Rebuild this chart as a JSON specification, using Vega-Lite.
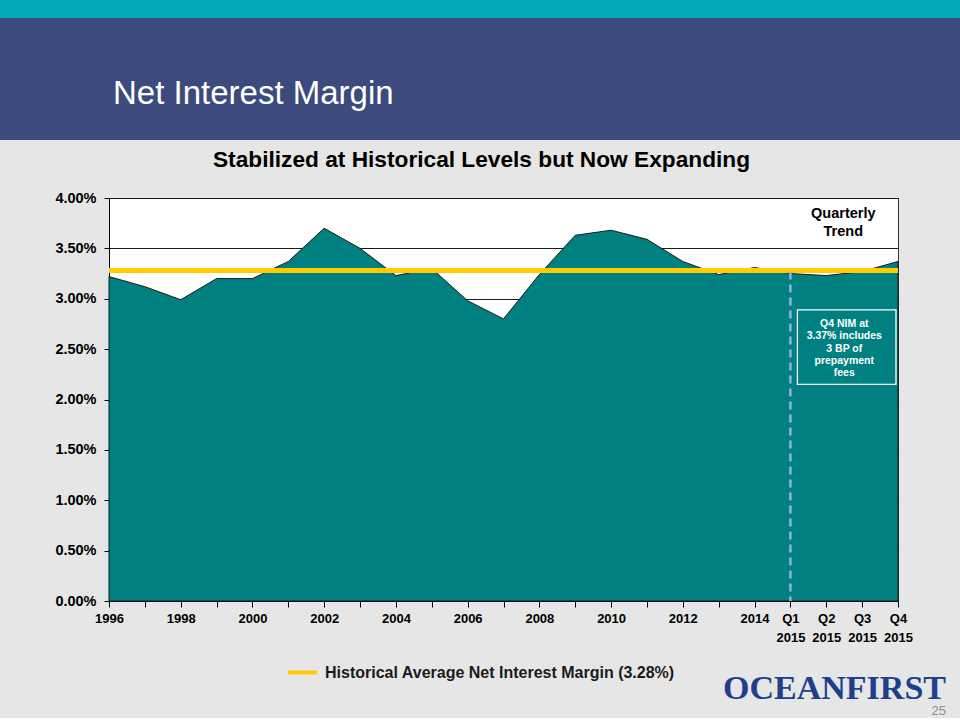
{
  "$schema": "https://vega.github.io/schema/vega-lite/v6.json",
  "background": "#E6E6E6",
  "padding": 0,
  "config": {
    "font": "Liberation Sans",
    "view": {"stroke": null}
  },
  "title": {
    "text": "OCEANFIRST",
    "subtitle": "25",
    "orient": "bottom",
    "anchor": "end",
    "frame": "bounds",
    "font": "Liberation Serif",
    "fontSize": 34,
    "fontWeight": "bold",
    "color": "#1D3F8C",
    "subtitleFont": "Liberation Sans",
    "subtitleFontSize": 13,
    "subtitleColor": "#8C8C8C",
    "subtitlePadding": -1,
    "dx": -14,
    "offset": -9
  },
  "spacing": 8,
  "vconcat": [
    {
      "vconcat": [
        {
          "width": 960,
          "height": 18,
          "view": {"fill": "#00AAB9", "stroke": null},
          "data": {"values": []},
          "mark": {"type": "point"},
          "encoding": {}
        },
        {
          "width": 960,
          "height": 122,
          "view": {"fill": "#3C4A7E", "stroke": null},
          "title": {
            "text": "Net Interest Margin",
            "orient": "top",
            "anchor": "start",
            "frame": "group",
            "baseline": "alphabetic",
            "offset": -119,
            "dx": 113,
            "font": "Liberation Sans",
            "fontSize": 33,
            "fontWeight": "normal",
            "color": "#FFFFFF"
          },
          "data": {"values": []},
          "mark": {"type": "point"},
          "encoding": {}
        }
      ],
      "spacing": 0
    },
    {
      "spacing": 0,
      "hconcat": [
        {
          "width": 1,
          "height": 403,
          "view": {"fill": null, "stroke": null},
          "data": {"values": []},
          "mark": {"type": "point"},
          "encoding": {}
        },
        {
          "width": 789,
          "height": 403,
          "view": {"fill": "#FFFFFF", "stroke": "#333333", "strokeWidth": 1},
          "title": {
            "text": "Stabilized at Historical Levels but Now Expanding",
            "anchor": "middle",
            "frame": "group",
            "baseline": "alphabetic",
            "offset": 0,
            "dx": -22,
            "font": "Liberation Sans",
            "fontSize": 22.7,
            "fontWeight": "bold",
            "color": "#000000"
          },
          "data": {
            "values": [
              {"period": "1996", "nim": 0.0322},
              {"period": "1997", "nim": 0.0312},
              {"period": "1998", "nim": 0.0299},
              {"period": "1999", "nim": 0.0320},
              {"period": "2000", "nim": 0.0320},
              {"period": "2001", "nim": 0.0337},
              {"period": "2002", "nim": 0.0370},
              {"period": "2003", "nim": 0.0350},
              {"period": "2004", "nim": 0.0323},
              {"period": "2005", "nim": 0.0330},
              {"period": "2006", "nim": 0.0298},
              {"period": "2007", "nim": 0.0280},
              {"period": "2008", "nim": 0.0324},
              {"period": "2009", "nim": 0.0363},
              {"period": "2010", "nim": 0.0368},
              {"period": "2011", "nim": 0.0359},
              {"period": "2012", "nim": 0.0337},
              {"period": "2013", "nim": 0.0324},
              {"period": "2014", "nim": 0.0331},
              {"period": "Q1 2015", "nim": 0.0325},
              {"period": "Q2 2015", "nim": 0.0323},
              {"period": "Q3 2015", "nim": 0.0327},
              {"period": "Q4 2015", "nim": 0.0337}
            ]
          },
          "layer": [
            {
              "mark": {"type": "area", "fill": "#008080", "stroke": "#1A1A1A", "strokeWidth": 1, "opacity": 1},
              "encoding": {
                "x": {
                  "field": "period",
                  "type": "ordinal",
                  "sort": null,
                  "scale": {"type": "point", "padding": 0},
                  "axis": {
                    "title": null,
                    "labelExpr": "indexof(datum.value, 'Q') == 0 ? split(datum.value, ' ') : (toNumber(datum.value) % 2 == 0 ? datum.value : '')",
                    "labelAngle": 0,
                    "labelOverlap": false,
                    "labelFont": "Liberation Sans",
                    "labelFontSize": 13,
                    "labelFontWeight": "bold",
                    "labelColor": "#000000",
                    "labelBaseline": "top",
                    "labelLineHeight": 19,
                    "labelPadding": 5,
                    "tickSize": 6,
                    "tickColor": "#000000",
                    "domainColor": "#000000",
                    "grid": false
                  }
                },
                "y": {
                  "field": "nim",
                  "type": "quantitative",
                  "scale": {"domain": [0, 0.04], "nice": false},
                  "axis": {
                    "values": [0, 0.005, 0.01, 0.015, 0.02, 0.025, 0.03, 0.035, 0.04],
                    "format": ".2%",
                    "title": ".",
                    "titleFontSize": 1,
                    "titleColor": "#E6E6E6",
                    "titlePadding": 0,
                    "minExtent": 106,
                    "labelFont": "Liberation Sans",
                    "labelFontSize": 14.5,
                    "labelFontWeight": "bold",
                    "labelColor": "#000000",
                    "labelPadding": 8,
                    "tickSize": 5,
                    "tickColor": "#000000",
                    "domainColor": "#000000",
                    "grid": true,
                    "gridColor": "#1A1A1A",
                    "gridWidth": 1,
                    "gridOpacity": 1
                  }
                }
              }
            },
            {
              "data": {"values": [{"avg": 0.0328, "series": "Historical Average Net Interest Margin (3.28%)"}]},
              "mark": {"type": "rule", "strokeWidth": 5},
              "encoding": {
                "y": {"field": "avg", "type": "quantitative"},
                "color": {
                  "field": "series",
                  "type": "nominal",
                  "scale": {"range": ["#FFCC00"]},
                  "legend": {
                    "title": null,
                    "orient": "none",
                    "legendX": 286,
                    "legendY": 656,
                    "symbolType": "stroke",
                    "symbolStrokeWidth": 4,
                    "symbolSize": 841,
                    "labelFont": "Liberation Sans",
                    "labelFontSize": 16,
                    "labelFontWeight": "bold",
                    "labelColor": "#1A1A1A",
                    "labelLimit": 600,
                    "labelOffset": 6
                  }
                }
              }
            },
            {
              "data": {"values": [{"period": "Q1 2015", "top": 0.0327, "bottom": 0}]},
              "mark": {"type": "rule", "stroke": "#8DB4E2", "strokeWidth": 2.5, "strokeDash": [8, 5]},
              "encoding": {
                "x": {"field": "period", "type": "ordinal"},
                "y": {"field": "top", "type": "quantitative"},
                "y2": {"field": "bottom"}
              }
            },
            {
              "data": {"values": [{"period": "Q1 2015", "period2": "Q4 2015", "top": 0.0289, "bottom": 0.0215}]},
              "mark": {"type": "rect", "filled": false, "stroke": "#FFFFFF", "strokeWidth": 1.3, "xOffset": 7, "x2Offset": -2},
              "encoding": {
                "x": {"field": "period", "type": "ordinal"},
                "x2": {"field": "period2"},
                "y": {"field": "top", "type": "quantitative"},
                "y2": {"field": "bottom"}
              }
            },
            {
              "data": {"values": [{"period": "Q2 2015", "pos": 0.03841, "label": "Quarterly\nTrend"}]},
              "mark": {"type": "text", "font": "Liberation Sans", "fontSize": 14.5, "fontWeight": "bold", "color": "#000000", "align": "center", "baseline": "middle", "lineBreak": "\n", "lineHeight": 18, "dx": 17},
              "encoding": {
                "x": {"field": "period", "type": "ordinal"},
                "y": {"field": "pos", "type": "quantitative"},
                "text": {"field": "label", "type": "nominal"}
              }
            },
            {
              "data": {"values": [{"period": "Q2 2015", "pos": 0.02749, "label": "Q4 NIM at\n3.37% includes\n3 BP of\nprepayment\nfees"}]},
              "mark": {"type": "text", "font": "Liberation Sans", "fontSize": 10.5, "fontWeight": "bold", "color": "#FFFFFF", "align": "center", "baseline": "middle", "lineBreak": "\n", "lineHeight": 12.3, "dx": 18},
              "encoding": {
                "x": {"field": "period", "type": "ordinal"},
                "y": {"field": "pos", "type": "quantitative"},
                "text": {"field": "label", "type": "nominal"}
              }
            }
          ]
        }
      ]
    }
  ]
}
